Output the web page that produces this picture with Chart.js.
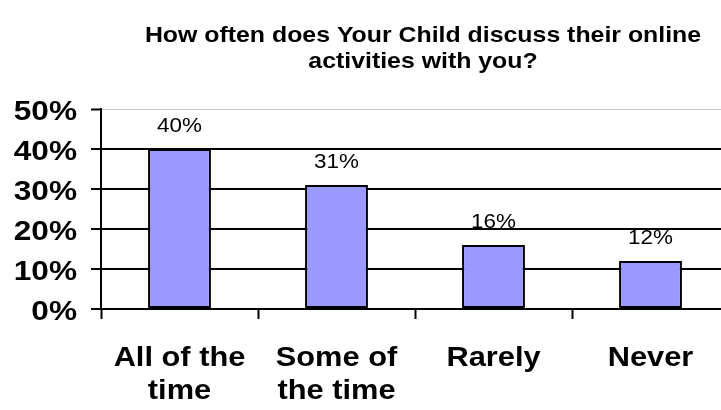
<!DOCTYPE html>
<html>
<head>
<meta charset="utf-8">
<script src="https://cdn.jsdelivr.net/npm/chart.js@4.4.0/dist/chart.umd.min.js"></script>
<style>
  html, body { margin: 0; padding: 0; background: #fff; overflow: hidden; }
  #wrap { width: 730px; height: 410px; }
</style>
</head>
<body>
<div id="wrap"><canvas id="chart" width="730" height="410"></canvas></div>
<script>
// chart data
const categories = [["All of the", "time"], ["Some of", "the time"], ["Rarely"], ["Never"]];
const percentValues = [40, 31, 16, 12];
const yTicks = [0, 10, 20, 30, 40, 50];
const titleLines = ["How often does Your Child discuss their online", "activities with you?"];

const FONT = "'Liberation Sans', Arial, Helvetica, sans-serif";

// the original's lettering is a bit wider than Arial, so text is drawn
// here with a small horizontal stretch
function wideText(ctx, str, x, y, sx, align) {
  ctx.save();
  ctx.translate(x, y);
  ctx.scale(sx, 1);
  ctx.textAlign = align;
  ctx.fillText(str, 0, 0);
  ctx.restore();
}

const textLayer = {
  id: "textLayer",
  afterDraw(chart) {
    const { ctx, scales } = chart;
    ctx.save();
    ctx.fillStyle = "#000";
    ctx.textBaseline = "alphabetic";

    // title
    ctx.font = "bold 22px " + FONT;
    wideText(ctx, titleLines[0], 423, 42, 1.13, "center");
    wideText(ctx, titleLines[1], 423, 68, 1.13, "center");

    // y tick labels
    ctx.font = "bold 27px " + FONT;
    yTicks.forEach(v => {
      const y = scales.y.getPixelForValue(v);
      wideText(ctx, v + "%", 77, y + 11, 1.17, "right");
    });

    // x category labels
    ctx.font = "bold 28px " + FONT;
    categories.forEach((lines, i) => {
      const x = scales.x.getPixelForValue(i);
      lines.forEach((line, j) => {
        wideText(ctx, line, x, 366 + j * 33, 1.1, "center");
      });
    });

    // value labels above bars
    ctx.font = "20px " + FONT;
    chart.getDatasetMeta(0).data.forEach((bar, i) => {
      wideText(ctx, percentValues[i] + "%", bar.x, bar.y - 17, 1.12, "center");
    });
    ctx.restore();
  }
};

new Chart(document.getElementById("chart"), {
  type: "bar",
  data: {
    labels: categories.map(c => c.join(" ")),
    datasets: [{
      data: percentValues,
      backgroundColor: "#9999ff",
      borderColor: "#000",
      borderWidth: 2,
      borderSkipped: false,
      barPercentage: 0.4,
      categoryPercentage: 1.0
    }]
  },
  options: {
    responsive: false,
    animation: false,
    devicePixelRatio: 1,
    layout: { padding: { top: 109, right: 1, bottom: 0, left: 0 } },
    plugins: {
      legend: { display: false },
      tooltip: { enabled: false }
    },
    scales: {
      x: {
        offset: true,
        grid: {
          offset: true,
          drawOnChartArea: false,
          drawTicks: true,
          tickLength: 10,
          tickColor: "#000",
          tickWidth: 2
        },
        border: { color: "#000", width: 2 },
        ticks: { display: false },
        afterFit(scale) { scale.height = 101; }
      },
      y: {
        min: 0,
        max: 50,
        afterBuildTicks(scale) { scale.ticks = yTicks.map(v => ({ value: v })); },
        grid: {
          color: ctx => ctx.tick && ctx.tick.value === 50 ? "#c8c8c8" : "#000",
          lineWidth: ctx => ctx.tick && ctx.tick.value === 50 ? 1 : 2,
          tickLength: 10,
          tickColor: "#000",
          tickWidth: 2
        },
        border: { color: "#000", width: 2 },
        ticks: { display: false },
        afterFit(scale) { scale.width = 101; }
      }
    }
  },
  plugins: [textLayer]
});
</script>
</body>
</html>
